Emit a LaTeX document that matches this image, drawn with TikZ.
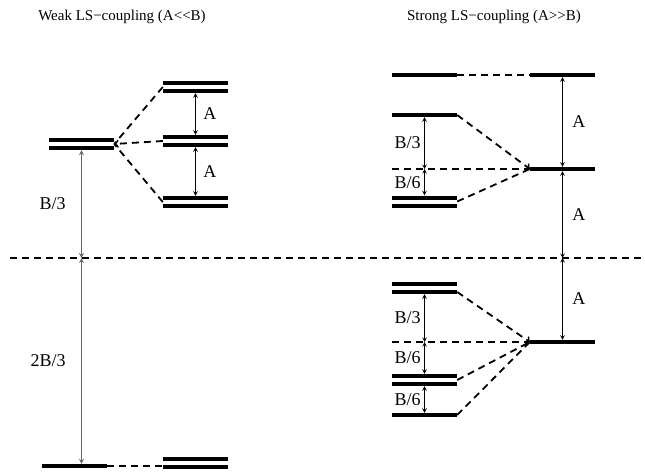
\documentclass[tikz,border=0pt]{standalone}
\usepackage{fontspec}
\setmainfont{Liberation Serif}
\usetikzlibrary{arrows}
\tikzstyle{level} = [rectangle, fill=black, inner sep=0pt, minimum width=65pt, minimum height=4pt]
\tikzstyle{dlevel} = [rectangle, fill=black, inner sep=0pt, minimum width=65pt, minimum height=12pt, path picture={\fill[white] ([yshift=-2pt]path picture bounding box.west) rectangle ([yshift=2pt]path picture bounding box.east);}]
\tikzstyle{link} = [line width=1.8pt, dash pattern=on 7pt off 5pt]
\tikzstyle{arrow} = [<->,>=stealth, line width=1pt]
\tikzstyle{lbl} = [font=\fontsize{18}{20}\selectfont]
\tikzstyle{title} = [font=\fontsize{15}{17}\selectfont]

\begin{document}
\begin{tikzpicture}[x=1pt,y=-1pt]
  \useasboundingbox (0,0) rectangle (645,472);
  \node (tw) [title] at (122,17) {Weak LS−coupling (A<\kern0pt<B)};
  \node (ts) [title] at (494,17) {Strong LS−coupling (A>\kern0pt>B)};
  \coordinate (ml) at (10,258);
  \coordinate (mr) at (645,258);
  \draw[link] (ml) -- (mr);
  % weak coupling
  \node (wa) [dlevel] at (81.5,144) {};
  \node (w1) [dlevel] at (195.5,87) {};
  \node (w2) [dlevel] at (195.5,141) {};
  \node (w3) [dlevel] at (195.5,202) {};
  \node (wg) [level] at (74.5,466) {};
  \node (wh) [dlevel] at (195.5,463) {};
  \draw[link] (w1.west) -- (wa.east);
  \draw[link,->] (w2.west) -- (wa.east);
  \draw[link] (w3.west) -- (wa.east);
  \draw[link] (wg.east) -- (wg.east -| wh.west);
  \draw[arrow] (w1.south) -- node[lbl,right=4pt]{A} (w2.north);
  \draw[arrow] (w2.south) -- node[lbl,right=4pt]{A} (w3.north);
  \draw[arrow,gray!80!black,line width=1.2pt] (wa.south) -- node[lbl,black,left=12pt]{B/3} (wa.south |- ml);
  \draw[arrow,gray!80!black,line width=1.2pt] (wa.south |- ml) -- node[lbl,black,left=12pt]{2B/3} (wa.south |- wg.north);
  % strong coupling
  \node (s1) [level] at (424.5,75) {};
  \node (sr1) [level] at (562.5,75) {};
  \node (s2) [level] at (424.5,115) {};
  \node (s3) [dlevel] at (424.5,201.5) {};
  \node (sr2) [level] at (562.5,169) {};
  \coordinate (sd1) at (392,169);
  \node (s4) [dlevel] at (424.5,288) {};
  \node (s5) [dlevel] at (424.5,380) {};
  \node (s6) [level] at (424.5,415) {};
  \node (sr3) [level] at (562.5,342) {};
  \coordinate (sd2) at (392,342);
  \draw[link] (s1.east) -- (sr1.west);
  \draw[link,->] (s2.east) -- (sr2.west);
  \draw[link] (sd1) -- (sr2.west);
  \draw[link] (s3.east) -- (sr2.west);
  \draw[link,->] ([yshift=-4pt]s4.east) -- (sr3.west);
  \draw[link] (sd2) -- (sr3.west);
  \draw[link] (s5.east) -- (sr3.west);
  \draw[link] (s6.east) -- (sr3.west);
  \draw[arrow] (sr1.south) -- node[lbl,right=6pt]{A} (sr2.north);
  \draw[arrow] (sr2.south) -- node[lbl,right=6pt]{A} (sr2.south |- ml);
  \draw[arrow] (sr2.south |- ml) -- node[lbl,right=6pt]{A} (sr3.north);
  \draw[arrow] (s2.south) -- node[lbl,left]{B/3} (s2.south |- sd1);
  \draw[arrow] (s2.south |- sd1) -- node[lbl,left]{B/6} (s3.north);
  \draw[arrow] (s4.south) -- node[lbl,left]{B/3} (s4.south |- sd2);
  \draw[arrow] (s4.south |- sd2) -- node[lbl,left]{B/6} (s5.north);
  \draw[arrow] (s5.south) -- node[lbl,left]{B/6} (s6.north);
\end{tikzpicture}
\end{document}
